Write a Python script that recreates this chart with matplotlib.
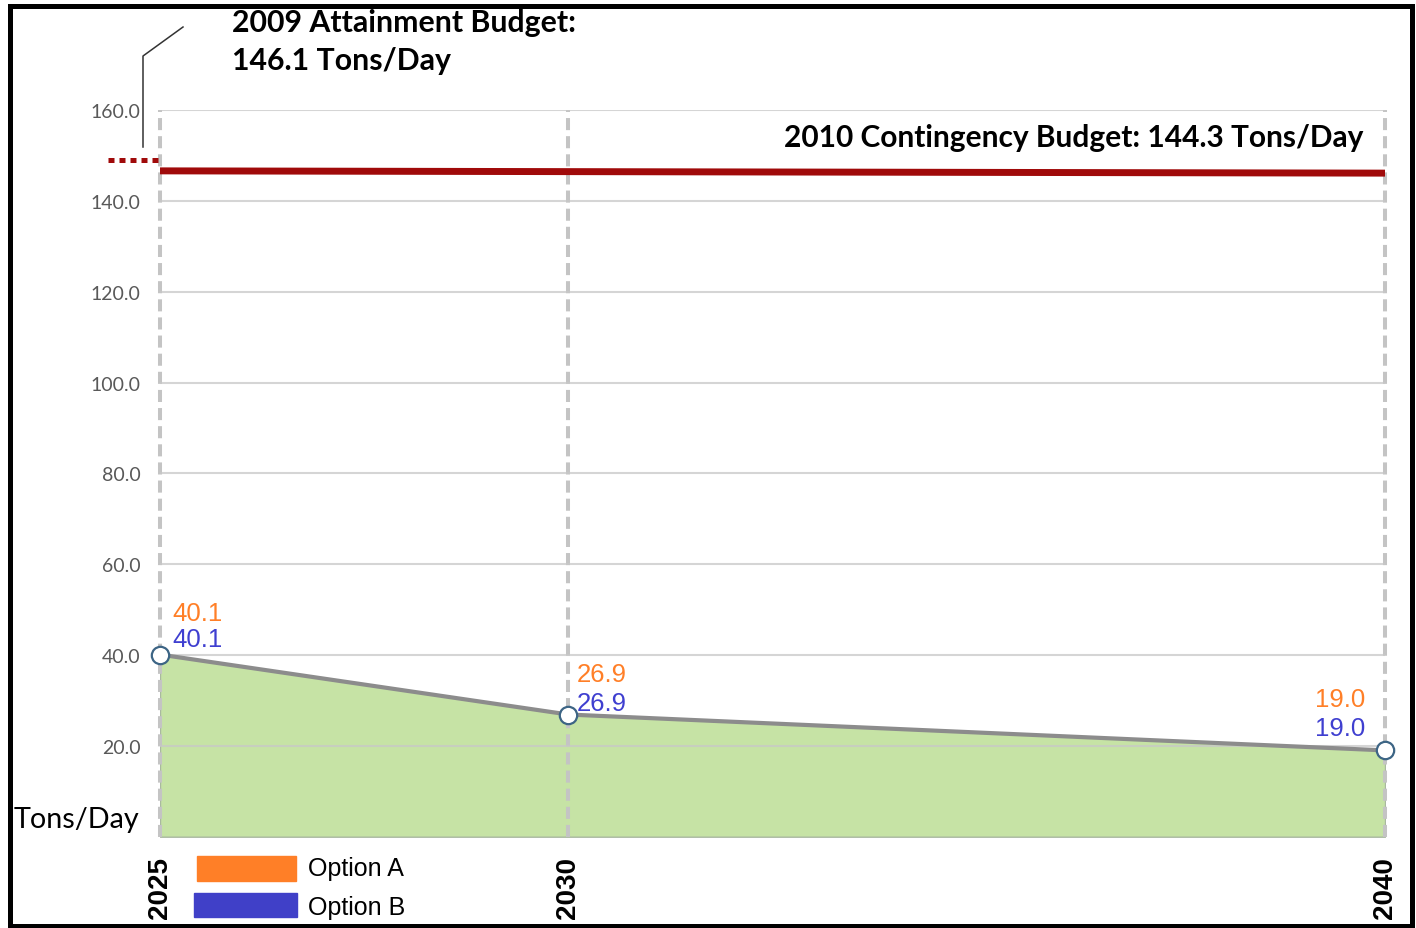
import matplotlib
matplotlib.use("Agg")
import matplotlib.pyplot as plt
from matplotlib.lines import Line2D
from matplotlib.patches import Rectangle

years = [2025, 2030, 2040]
year_labels = ["2025", "2030", "2040"]
option_a = [40.1, 26.9, 19.0]
option_b = [40.1, 26.9, 19.0]
emissions = [40.1, 26.9, 19.0]
yticks = [20, 40, 60, 80, 100, 120, 140, 160]

# red budget line as drawn in the picture (slightly sloping)
contingency_years = [2025, 2040]
contingency_line = [146.6, 146.1]
attainment_level = 149.0

W, H = 1416, 929
fig = plt.figure(figsize=(W / 100, H / 100), dpi=100)
ax = fig.add_axes([160 / W, 1 - 837.7 / H, (1385 - 160) / W, (837.7 - 111) / H])
ax.set_xlim(2025, 2040)
ax.set_ylim(0, 160)

ax.fill_between(years, 0, emissions, color="#c6e3a5", edgecolor="#a9b8a0", lw=1, zorder=1)
ax.set_axisbelow(False)
ax.yaxis.grid(True, color="#c8c8c8", lw=1.5, alpha=0.75)
ax.xaxis.grid(True, color="#c4c4c4", lw=2.9, ls=(0, (3.0, 1.5)))
for gl in ax.get_xgridlines():
    gl.set_clip_on(False)
ax.plot(years, emissions, color="#8c8c8c", lw=3, zorder=3, solid_capstyle="round")
ax.plot(years, emissions, ls="none", marker="o", ms=12.5, mfc="white",
        mec="#3d6585", mew=1.6, zorder=5, clip_on=False)

ax.plot(contingency_years, contingency_line, color="#a00a0a", lw=5, zorder=4)
ax.plot([2024.36, 2025], [attainment_level, attainment_level], color="#a00a0a",
        lw=3.6, dashes=(1.2, 1.0), clip_on=False, zorder=4)

# data labels
offsets_a = [(9, 30), (6, 29), (-14, 37)]
offsets_b = [(9, 11), (6, 8), (-14, 16)]
aligns = ["left", "left", "right"]
for x, a, b, oa, ob, ha in zip(years, option_a, option_b, offsets_a, offsets_b, aligns):
    ax.annotate(f"{a:.1f}", (x, a), xytext=oa, textcoords="offset points",
                ha=ha, va="center", color="#ff7f27", fontsize=18.5,
                family="Liberation Sans", zorder=6)
    ax.annotate(f"{b:.1f}", (x, b), xytext=ob, textcoords="offset points",
                ha=ha, va="center", color="#3f3fd0", fontsize=18.5,
                family="Liberation Sans", zorder=6)

ax.set_yticks(yticks)
ax.set_yticklabels([f"{v:.1f}" for v in yticks], family="Lato", fontsize=14, color="#595959")
ax.set_xticks(years)
ax.set_xticklabels(year_labels, rotation=90, fontweight="bold", fontsize=20,
                   family="Liberation Sans")
ax.tick_params(axis="y", length=0, pad=14)
ax.tick_params(axis="x", length=0, pad=14)
for s in ax.spines.values():
    s.set_visible(False)

ax.text(2039.74, 154, "2010 Contingency Budget: 144.3 Tons/Day", ha="right", va="center",
        fontsize=21.5, fontweight="bold", family="Lato")

fig.text(232 / W, 1 - 23 / H, "2009 Attainment Budget:", ha="left", va="center",
         fontsize=21.8, fontweight="bold", family="Lato")
fig.text(232 / W, 1 - 61 / H, "146.1 Tons/Day", ha="left", va="center",
         fontsize=21.8, fontweight="bold", family="Lato")
fig.add_artist(Line2D([143 / W, 143 / W, 183 / W], [1 - 148 / H, 1 - 57 / H, 1 - 28 / H],
                      color="#333333", lw=1.1))

fig.text(14 / W, 1 - 820 / H, "Tons/Day", ha="left", va="center", fontsize=20.7, family="Lato")

# legend
fig.add_artist(Rectangle((197 / W, 1 - 882 / H), 99 / W, 25 / H, color="#ff7f27"))
fig.add_artist(Rectangle((194 / W, 1 - 918 / H), 103 / W, 24 / H, color="#4040c8"))
fig.text(308 / W, 1 - 869 / H, "Option A", ha="left", va="center", fontsize=18,
         family="Liberation Sans")
fig.text(308 / W, 1 - 908 / H, "Option B", ha="left", va="center", fontsize=18,
         family="Liberation Sans")

fig.add_artist(Rectangle((9.5 / W, 1 - 927 / H), (1412 - 9.5) / W, (927 - 6.5) / H,
                         fill=False, lw=3.6, ec="black"))

fig.savefig("out.png", dpi=100)
